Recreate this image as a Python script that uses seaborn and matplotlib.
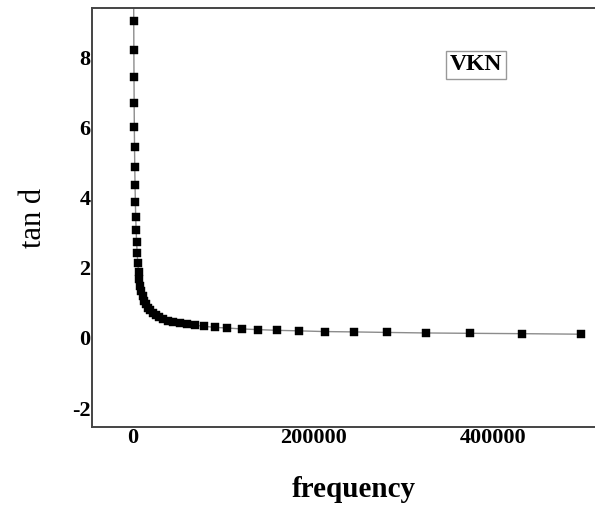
import matplotlib
matplotlib.use("Agg")
import matplotlib.pyplot as plt
import seaborn as sns

# données (fréquence en Hz, tan d)
freq = [643, 741, 853, 983, 1133, 1305, 1503, 1731, 1995, 2298, 2647, 3049,
        3512, 4046, 4661, 5370, 6186, 7126, 8209, 9457, 10890, 12550, 14460,
        16660, 19190, 22100, 25460, 29330, 33790, 38930, 44840, 51660, 59510,
        68550, 79000, 91000, 104800, 120700, 139100, 160200, 184600, 212700,
        245000, 282200, 325100, 374500, 431400, 497000]
tan_d = [10.85, 9.9, 9.03, 8.21, 7.44, 6.70, 6.02, 5.43, 4.86, 4.35, 3.86,
         3.44, 3.07, 2.73, 2.41, 2.127, 1.882, 1.670, 1.487, 1.326, 1.187,
         1.065, 0.958, 0.865, 0.782, 0.710, 0.646, 0.589, 0.539, 0.495, 0.455,
         0.420, 0.389, 0.360, 0.33, 0.30, 0.28, 0.255, 0.235, 0.215, 0.20,
         0.18, 0.17, 0.155, 0.14, 0.13, 0.12, 0.105]

x_ticks = [0, 200000, 400000]
x_tick_labels = ["0", "200000", "400000"]
y_ticks = [-2, 0, 2, 4, 6, 8]
y_tick_labels = ["-2", "0", "2", "4", "6", "8"]
sample_name = "VKN"

sns.set_theme(style="white")
plt.rcParams.update({
    "font.family": ["Liberation Serif", "DejaVu Serif"],
    "text.color": "black",
    "axes.labelcolor": "black",
    "xtick.color": "black",
    "ytick.color": "black",
})

fig = plt.figure(figsize=(5.95, 5.08), dpi=100)
ax = fig.add_axes([0.1546, 0.1594, 1.035 - 0.1546, 0.9843 - 0.1594])

sns.lineplot(x=freq, y=tan_d, ax=ax, color="#8c8c8c", lw=1.0, sort=False)
sns.scatterplot(x=freq, y=tan_d, ax=ax, marker="s", s=38, color="black",
                edgecolor="black", linewidth=0.3, zorder=3)

ax.set_xlim(-45500, 536000)
ax.set_ylim(-2.54, 9.40)
ax.set_xticks(x_ticks)
ax.set_xticklabels(x_tick_labels, fontsize=16, fontweight="bold")
ax.set_yticks(y_ticks)
ax.set_yticklabels(y_tick_labels, fontsize=16, fontweight="bold")
ax.tick_params(length=0, pad=1)

for sp in ax.spines.values():
    sp.set_color("#444444")
    sp.set_linewidth(1.4)

ax.set_xlabel("frequency", fontsize=21, fontweight="bold", labelpad=20)
ax.set_ylabel("tan d", fontsize=22, labelpad=17)

ax.text(0.733, 0.865, sample_name, transform=ax.transAxes, fontsize=17,
        fontweight="bold", ha="center", va="center",
        bbox=dict(boxstyle="square,pad=0.15", facecolor="white",
                  edgecolor="#999999", lw=1))

fig.savefig("out.png", dpi=100)
